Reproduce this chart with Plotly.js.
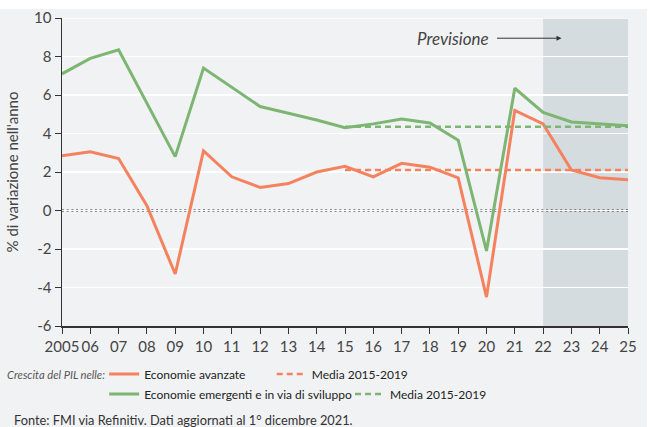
<!DOCTYPE html>
<html lang="it">
<head>
<meta charset="UTF-8">
<title>Crescita del PIL</title>
<script src="https://cdn.plot.ly/plotly-3.0.1.min.js"></script>
<style>
  body { margin: 0; padding: 0; background: white; }
  #chart { position: absolute; left: 0; top: 9px; width: 647px; height: 418px; }
</style>
</head>
<body>
<div id="chart"></div>
<script>
  const years = [2005, 2006, 2007, 2008, 2009, 2010, 2011, 2012, 2013, 2014, 2015,
                 2016, 2017, 2018, 2019, 2020, 2021, 2022, 2023, 2024, 2025];
  const tickLabels = ['2005', '06', '07', '08', '09', '10', '11', '12', '13', '14', '15',
                      '16', '17', '18', '19', '20', '21', '22', '23', '24', '25'];
  const yTicks = [-6, -4, -2, 0, 2, 4, 6, 8, 10];
  const yTickLabels = ['-6', '-4', '-2', '0', '2', '4', '6', '8', '10'];
  const advanced = [2.85, 3.05, 2.7, 0.25, -3.3, 3.1, 1.75, 1.2, 1.4, 2.0, 2.3,
                    1.75, 2.45, 2.25, 1.7, -4.5, 5.2, 4.5, 2.1, 1.7, 1.6];
  const emerging = [7.1, 7.9, 8.35, 5.6, 2.8, 7.4, 6.4, 5.4, 5.05, 4.7, 4.3,
                    4.5, 4.75, 4.55, 3.65, -2.1, 6.35, 5.1, 4.6, 4.5, 4.4];
  const avgYears = [2015, 2025];
  const advancedAvg = 2.1;
  const emergingAvg = 4.35;
  const forecastStart = 2022;
  const forecastEnd = 2025;

  const ORANGE = '#f5825f';
  const GREEN = '#7db572';
  const FONT = 'Lato, "Open Sans", sans-serif';

  const traces = [
    {
      x: years, y: advanced, type: 'scatter', mode: 'lines',
      name: 'Economie avanzate',
      line: {color: ORANGE, width: 3},
      legend: 'legend'
    },
    {
      x: avgYears, y: avgYears.map(() => advancedAvg), type: 'scatter', mode: 'lines',
      name: 'Media 2015-2019',
      line: {color: ORANGE, width: 2.5, dash: '6px,4px'},
      legend: 'legend3'
    },
    {
      x: years, y: emerging, type: 'scatter', mode: 'lines',
      name: 'Economie emergenti e in via di sviluppo',
      line: {color: GREEN, width: 3},
      legend: 'legend2'
    },
    {
      x: avgYears, y: avgYears.map(() => emergingAvg), type: 'scatter', mode: 'lines',
      name: 'Media 2015-2019',
      line: {color: GREEN, width: 2.5, dash: '6px,4px'},
      legend: 'legend4'
    }
  ];

  // one legend box per entry so each can sit where the original puts it
  function legendAt(x, y) {
    return {
      orientation: 'h', xref: 'container', yref: 'container',
      x: x, y: y, xanchor: 'left', yanchor: 'middle',
      bgcolor: 'rgba(0,0,0,0)', borderwidth: 0,
      font: {family: FONT, size: 12, color: '#222'}
    };
  }

  const layout = {
    width: 647,
    height: 418,
    margin: {l: 62, r: 19, t: 9, b: 101},
    paper_bgcolor: '#f1f2f4',
    plot_bgcolor: '#f1f2f4',
    font: {family: FONT, color: '#444'},
    xaxis: {
      range: [2005, 2025],
      tickvals: years,
      ticktext: tickLabels,
      ticks: 'outside',
      ticklen: 6,
      tickcolor: '#333',
      showline: true,
      linecolor: '#333',
      linewidth: 1.5,
      showgrid: false,
      zeroline: false,
      tickfont: {family: FONT, size: 15, color: '#444'}
    },
    yaxis: {
      range: [-6, 10],
      tickvals: yTicks,
      ticktext: yTickLabels,
      ticklabeloverflow: 'allow',
      ticks: 'outside',
      ticklen: 6,
      tickcolor: '#333',
      showline: true,
      linecolor: '#333',
      linewidth: 1.5,
      gridcolor: '#ffffff',
      gridwidth: 1.5,
      zeroline: false,
      tickfont: {family: FONT, size: 15, color: '#444'},
      title: {text: "% di variazione nell'anno", font: {family: FONT, size: 15, color: '#444'}, standoff: 12}
    },
    shapes: [
      {
        type: 'rect', xref: 'x', yref: 'paper',
        x0: forecastStart, x1: forecastEnd, y0: 0, y1: 1,
        fillcolor: '#d5dce0', line: {width: 0}, layer: 'below'
      },
      {
        type: 'line', xref: 'paper', yref: 'y',
        x0: 0, x1: 1, y0: yTicks[yTicks.length - 1], y1: yTicks[yTicks.length - 1],
        line: {color: '#ffffff', width: 1.5}, layer: 'below'
      },
      {
        type: 'line', xref: 'paper', yref: 'y',
        x0: 0, x1: 1, y0: 0, y1: 0,
        line: {color: '#222', width: 2, dash: '2px,2.7px'}, layer: 'between'
      }
    ],
    annotations: [
      {
        text: 'Previsione', xref: 'x', yref: 'y', x: 2020.15, y: 8.95,
        xanchor: 'right', yanchor: 'middle', showarrow: false,
        font: {family: FONT, size: 17, color: '#444', style: 'italic'}
      },
      {
        text: '', xref: 'x', yref: 'y', x: 2022.65, y: 8.95,
        ax: -66, ay: 0, showarrow: true, arrowhead: 2, arrowsize: 1,
        arrowwidth: 1, arrowcolor: '#333'
      },
      {
        text: 'Crescita del PIL nelle:', xref: 'paper', yref: 'paper',
        x: -0.1, y: -0.158, xanchor: 'left', yanchor: 'middle', showarrow: false,
        font: {family: FONT, size: 11.2, color: '#555', style: 'italic'}
      },
      {
        text: 'Fonte: FMI via Refinitiv. Dati aggiornati al 1° dicembre 2021.',
        xref: 'paper', yref: 'paper',
        x: -0.088, y: -0.305, xanchor: 'left', yanchor: 'middle', showarrow: false,
        font: {family: FONT, size: 12.8, color: '#333'}
      }
    ],
    showlegend: true,
    legend: legendAt(0.161, 0.127),
    legend3: legendAt(0.420, 0.127),
    legend2: legendAt(0.161, 0.079),
    legend4: legendAt(0.541, 0.079)
  };

  Plotly.newPlot('chart', traces, layout, {displayModeBar: false, staticPlot: true});
</script>
</body>
</html>
